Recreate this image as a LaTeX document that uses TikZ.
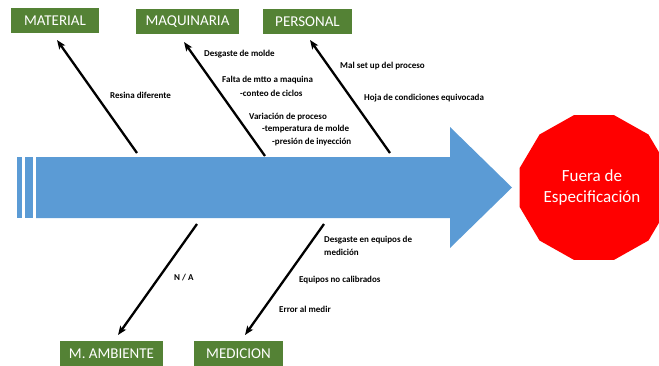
\documentclass[tikz,border=0pt]{standalone}
\usepackage{fontspec}
\setmainfont{Carlito}
\usetikzlibrary{arrows.meta}
\definecolor{catgreen}{HTML}{548235}
\definecolor{spineblue}{HTML}{5B9BD5}
\definecolor{effred}{HTML}{FF0000}
\tikzset{
  catbox/.style={fill=catgreen, text=white, font=\fontsize{15}{17}\selectfont, minimum height=25pt, inner sep=0pt},
  cause/.style={anchor=west, inner sep=0pt, font=\bfseries\fontsize{9}{10.5}\selectfont},
  bone/.style={line width=2.3pt, -{Stealth[length=9pt,width=7pt,inset=2pt]}}
}
\begin{document}
\begin{tikzpicture}[x=1pt,y=-1pt]
\useasboundingbox (0,0) rectangle (659,365);
% spine
\fill[spineblue] (17.3,157) rectangle (21.7,218);
\fill[spineblue] (25,157) rectangle (33,218);
\fill[spineblue] (36,157) -- (450,157) -- (450,127) -- (512,187.5) -- (450,248) -- (450,218) -- (36,218) -- cycle;
% effect
\begin{scope}
\clip (0,0) rectangle (659,365);
\fill[effred, shift={(594,187.5)}] (15:77 and 75)
  \foreach \a in {45,75,...,345} { -- (\a:77 and 75) } -- cycle;
\end{scope}
\node[text=white, font=\fontsize{17}{21}\selectfont, align=center] (eff) at (592,187.5) {Fuera de\\Especificación};
% categories
\node[catbox, minimum width=88pt] (mat) at (55,20.5) {MATERIAL};
\node[catbox, minimum width=103pt] (maq) at (187.5,21.5) {MAQUINARIA};
\node[catbox, minimum width=89pt] (per) at (307.5,21.5) {PERSONAL};
\node[catbox, minimum width=103pt] (amb) at (111.5,353.5) {M. AMBIENTE};
\node[catbox, minimum width=89pt] (med) at (238.5,353.5) {MEDICION};
% bone ends
\coordinate (matS) at (137,153);
\coordinate (matT) at (57,40);
\coordinate (maqS) at (265,156);
\coordinate (maqT) at (184,42);
\coordinate (perS) at (390,153);
\coordinate (perT) at (310,40);
\coordinate (ambS) at (197,224);
\coordinate (ambT) at (118,335);
\coordinate (medS) at (324,224);
\coordinate (medT) at (245,335);
\draw[bone] (matS) -- (matT);
\draw[bone] (maqS) -- (maqT);
\draw[bone] (perS) -- (perT);
\draw[bone] (ambS) -- (ambT);
\draw[bone] (medS) -- (medT);
% causes
\node[cause] (c1) at (110,95) {Resina diferente};
\node[cause] (c2) at (204,54) {Desgaste de molde};
\node[cause] (c3) at (222,80) {Falta de mtto a maquina};
\node[cause] (c4) at (240,93) {-conteo de ciclos};
\node[cause] (c5) at (249,117) {Variación de proceso};
\node[cause] (c6) at (262,129) {-temperatura de molde};
\node[cause] (c7) at (272,142) {-presión de inyección};
\node[cause] (c8) at (340,66) {Mal set up del proceso};
\node[cause] (c9) at (364,98) {Hoja de condiciones equivocada};
\node[cause] (c10) at (174,278) {N / A};
\node[cause] (c11) at (324,240) {Desgaste en equipos de};
\node[cause] (c12) at (324,252) {medición};
\node[cause] (c13) at (299,280) {Equipos no calibrados};
\node[cause] (c14) at (279,309) {Error al medir};
\end{tikzpicture}
\end{document}
